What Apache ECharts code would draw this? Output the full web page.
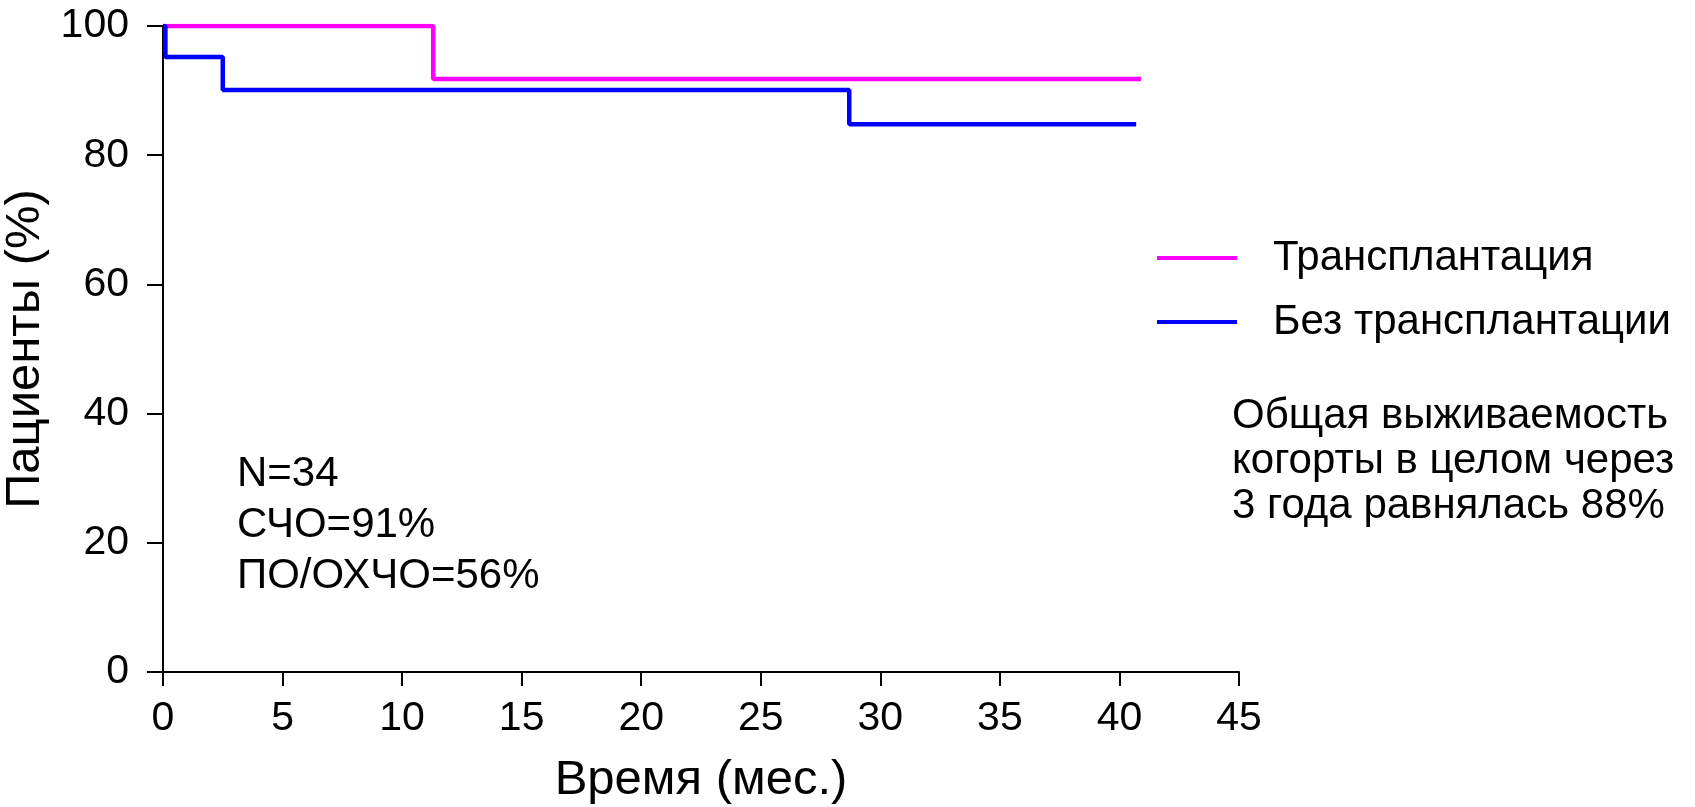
<!DOCTYPE html>
<html>
<head>
    <meta charset="utf-8">
    <script src="https://cdn.jsdelivr.net/npm/echarts@6/dist/echarts.min.js"></script>
    <style>
        html, body { margin: 0; padding: 0; background: #fff; }
        #main { width: 1695px; height: 807px; }
    </style>
</head>
<body>
<div id="main"></div>
<script type="text/javascript">
    // кривые выживаемости (месяцы, %)
    var transTime = [0, 11.3, 40.9];
    var transSurv = [100, 91.8, 91.8];
    var noTransTime = [0, 0.1, 2.5, 28.7, 40.7];
    var noTransSurv = [100, 95.2, 90.1, 84.8, 84.8];

    var seriesNames = ['Трансплантация', 'Без трансплантации'];
    var xTicks = [0, 5, 10, 15, 20, 25, 30, 35, 40, 45];
    var yTicks = [0, 20, 40, 60, 80, 100];

    var leftNote = ['N=34', 'СЧО=91%', 'ПО/ОХЧО=56%'];
    var rightNote = ['Общая выживаемость', 'когорты в целом через', '3 года равнялась 88%'];

    function pairs(xs, ys) {
        var out = [];
        for (var i = 0; i < xs.length; i++) {
            out.push([xs[i], ys[i]]);
        }
        return out;
    }

    var font = 'Liberation Sans, Arial, sans-serif';
    var myChart = echarts.init(document.getElementById('main'));

    var option = {
        animation: false,
        textStyle: { fontFamily: font, color: '#000' },
        grid: { left: 163, right: 456, top: 26, bottom: 135, containLabel: false, outerBoundsMode: 'none' },
        legend: {
            data: seriesNames,
            orient: 'vertical',
            left: 1157,
            top: 237,
            padding: 0,
            icon: 'rect',
            itemWidth: 80,
            itemHeight: 4,
            itemGap: 22,
            textStyle: { fontSize: 42, color: '#000', padding: [0, 0, 0, 31], lineHeight: 40 }
        },
        xAxis: {
            type: 'value',
            min: 0,
            max: 45,
            interval: 5,
            name: 'Время (мес.)',
            nameLocation: 'middle',
            nameGap: 84,
            nameTextStyle: { fontSize: 49, color: '#000' },
            axisLine: { lineStyle: { color: '#000', width: 2 } },
            axisTick: { length: 14, lineStyle: { color: '#000', width: 2 } },
            axisLabel: { fontSize: 41, color: '#000', margin: 26,
                formatter: function (v) { return xTicks.indexOf(v) >= 0 ? String(v) : ''; } },
            splitLine: { show: false }
        },
        yAxis: {
            type: 'value',
            min: 0,
            max: 100,
            interval: 20,
            name: 'Пациенты (%)',
            nameLocation: 'middle',
            nameGap: 97,
            nameTextStyle: { fontSize: 49, color: '#000' },
            axisLine: { show: true, lineStyle: { color: '#000', width: 2 } },
            axisTick: { show: true, length: 16, lineStyle: { color: '#000', width: 2 } },
            axisLabel: { fontSize: 41, color: '#000', margin: 34,
                formatter: function (v) { return yTicks.indexOf(v) >= 0 ? String(v) : ''; } },
            splitLine: { show: false }
        },
        graphic: [
            {
                type: 'text',
                left: 237,
                top: 449,
                style: { text: leftNote.join('\n'), font: '42px ' + font, lineHeight: 51, fill: '#000' }
            },
            {
                type: 'text',
                left: 1232,
                top: 394,
                style: { text: rightNote.join('\n'), font: '42px ' + font, lineHeight: 45, fill: '#000' }
            }
        ],
        series: [
            {
                name: seriesNames[0],
                type: 'line',
                step: 'end',
                showSymbol: false,
                color: '#ff00ff',
                lineStyle: { width: 4.5, color: '#ff00ff' },
                data: pairs(transTime, transSurv)
            },
            {
                name: seriesNames[1],
                type: 'line',
                step: 'end',
                showSymbol: false,
                color: '#0000ff',
                lineStyle: { width: 4.5, color: '#0000ff' },
                data: pairs(noTransTime, noTransSurv)
            }
        ]
    };

    myChart.setOption(option);
</script>
</body>
</html>
